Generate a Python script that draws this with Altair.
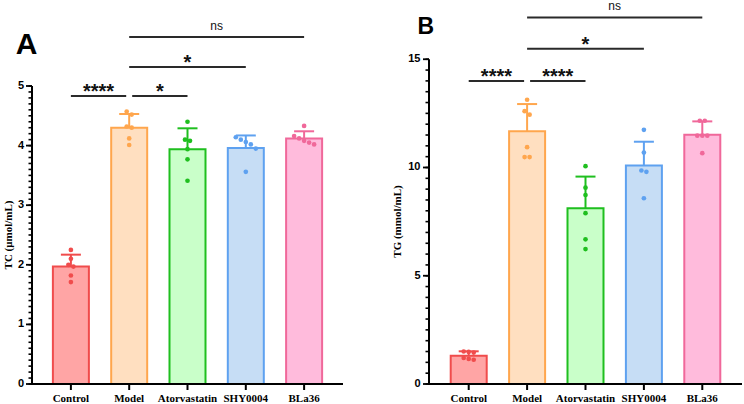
import altair as alt
import pandas as pd

# ---------------- data ----------------
groups = ["Control", "Model", "Atorvastatin", "SHY0004", "BLa36"]
stroke_colors = ["#F04C4C", "#FFA64D", "#1FBF1F", "#5EA1F0", "#F0689A"]
fill_colors = ["#FFA5A5", "#FFDFC0", "#C9FFC9", "#C6DDF5", "#FFBBDC"]

# Panel A: TC (umol/mL)
tc_mean = [1.97, 4.30, 3.94, 3.96, 4.12]
tc_err_top = [2.17, 4.53, 4.29, 4.17, 4.24]
tc_control = [2.25, 2.10, 2.00, 1.97, 1.82, 1.71]
tc_model = [4.57, 4.52, 4.32, 4.30, 4.12, 4.01]
tc_atorvastatin = [4.40, 4.10, 4.08, 3.94, 3.77, 3.41]
tc_shy0004 = [4.14, 4.10, 4.06, 4.02, 3.95, 3.56]
tc_bla36 = [4.33, 4.16, 4.12, 4.08, 4.05, 4.02]

# Panel B: TG (mmol/mL)
tg_mean = [1.30, 11.67, 8.12, 10.09, 11.51]
tg_err_top = [1.51, 12.93, 9.58, 11.19, 12.13]
tg_control = [1.50, 1.48, 1.45, 1.20, 1.16, 1.12]
tg_model = [13.13, 12.60, 12.44, 10.94, 10.48, 10.48]
tg_atorvastatin = [10.06, 9.07, 8.73, 7.89, 6.68, 6.23]
tg_shy0004 = [11.74, 10.69, 9.86, 9.80, 8.58]
tg_bla36 = [12.16, 12.16, 11.47, 11.47, 11.47, 10.66]

# significance brackets (group index from -> to, label, height in data units)
tc_br_from = [0, 1, 1, 1]
tc_br_to = [1, 2, 3, 4]
tc_br_label = ["****", "*", "*", "ns"]
tc_br_level = [4.83, 4.83, 5.32, 5.82]

tg_br_from = [0, 1, 1, 1]
tg_br_to = [1, 2, 3, 4]
tg_br_label = ["****", "****", "*", "ns"]
tg_br_level = [14.0, 14.0, 15.48, 16.93]


def panel(letter, letter_size, letter_x, letter_y, ytitle, title_x, title_y,
          means, tops, point_lists, br_from, br_to, br_label, br_level,
          major, minor, axis_max, dom_max, xpad, width, height, label_x):
    step_px = width / (4 + 2 * xpad)
    k = height / dom_max
    xs = alt.Scale(domain=[-xpad, 4 + xpad], nice=False, zero=False, padding=0)
    ys = alt.Scale(domain=[0, dom_max], nice=False, zero=True, padding=0)

    bars_df = pd.DataFrame({"idx": list(range(5)), "group": groups, "mean": means,
                            "top": tops, "zero": [0] * 5,
                            "stroke": stroke_colors, "fill": fill_colors})

    # points, spread sideways when they would overlap
    rows = []
    for gi, vals in enumerate(point_lists):
        svals = sorted(vals, reverse=True)
        clusters = [[svals[0]]]
        for v in svals[1:]:
            if (clusters[-1][-1] - v) * k < 4.5:
                clusters[-1].append(v)
            else:
                clusters.append([v])
        for cl in clusters:
            n = len(cl)
            for j, v in enumerate(cl):
                off = (j - (n - 1) / 2) * 5.0
                rows.append({"idx": gi, "value": v, "xj": gi + off / step_px,
                             "stroke": stroke_colors[gi]})
    pts_df = pd.DataFrame(rows)

    # brackets with small gaps where two meet at the same height
    brs = []
    for i in range(len(br_from)):
        a, b = br_from[i], br_to[i]
        sa, sb = 0.0, 0.0
        for j in range(len(br_from)):
            if j == i or br_level[j] != br_level[i]:
                continue
            if br_from[j] == b:
                sb = -3.0
            if br_to[j] == a:
                sa = 3.0
        x1 = a + sa / step_px
        x2 = b + sb / step_px
        brs.append({"x1": x1, "x2": x2, "xm": (x1 + x2) / 2, "level": br_level[i],
                    "label": br_label[i]})
    br_df = pd.DataFrame(brs)

    major_df = pd.DataFrame({"v": list(range(0, axis_max + 1, major))})
    major_df["t"] = major_df["v"].astype(str)
    minor_df = pd.DataFrame({"v": [round(i * minor, 6)
                                   for i in range(int(round(axis_max / minor)) + 1)]})

    X = lambda f: alt.X(f, scale=xs, axis=None)
    Y = lambda f: alt.Y(f, scale=ys, axis=None)

    bars = alt.Chart(bars_df).mark_bar(orient="vertical", width=36, strokeWidth=2).encode(
        x=X("idx:Q"), y=Y("mean:Q"), y2="zero:Q",
        fill=alt.Fill("fill:N", scale=None),
        stroke=alt.Stroke("stroke:N", scale=None))
    errs = alt.Chart(bars_df).mark_rule(strokeWidth=2).encode(
        x=X("idx:Q"), y=Y("mean:Q"), y2="top:Q",
        color=alt.Color("stroke:N", scale=None))
    caps = alt.Chart(bars_df).mark_rule(strokeWidth=2, xOffset=-10, x2Offset=10).encode(
        x=X("idx:Q"), x2="idx:Q", y=Y("top:Q"),
        color=alt.Color("stroke:N", scale=None))
    points = alt.Chart(pts_df).mark_circle(size=22, opacity=1).encode(
        x=X("xj:Q"), y=Y("value:Q"), color=alt.Color("stroke:N", scale=None))
    br_rules = alt.Chart(br_df).mark_rule(strokeWidth=2, color="#2a2a2a").encode(
        x=X("x1:Q"), x2="x2:Q", y=Y("level:Q"))
    stars = alt.Chart(br_df).transform_filter("datum.label != 'ns'").mark_text(
        font="Liberation Sans", fontSize=20, fontWeight="bold", dy=2,
        baseline="alphabetic", color="#111").encode(
        x=X("xm:Q"), y=Y("level:Q"), text="label:N")
    ns = alt.Chart(br_df).transform_filter("datum.label == 'ns'").mark_text(
        font="Liberation Sans", fontSize=12, dy=-7, baseline="alphabetic",
        color="#111").encode(
        x=X("xm:Q"), y=Y("level:Q"), text="label:N")

    # axes drawn as marks
    xline = alt.Chart(bars_df.head(1)).mark_rule(strokeWidth=2, color="black").encode(
        x=alt.value(-1), x2=alt.value(width), y=Y("zero:Q"))
    xticks = alt.Chart(bars_df).mark_rule(strokeWidth=2, color="black", y2Offset=6).encode(
        x=X("idx:Q"), y=Y("zero:Q"), y2="zero:Q")
    xlabels = alt.Chart(bars_df).mark_text(
        font="Liberation Serif", fontWeight="bold", fontSize=11, baseline="top",
        dy=9, color="black").encode(x=X("idx:Q"), y=Y("zero:Q"), text="group:N")
    yline = alt.Chart(bars_df.head(1)).mark_rule(strokeWidth=2, color="black").encode(
        x=alt.value(0), y=Y("zero:Q"), y2=alt.Y2Datum(axis_max))
    minor_ticks = alt.Chart(minor_df).mark_rule(strokeWidth=1.6, color="black").encode(
        x=alt.value(-3.5), x2=alt.value(0), y=Y("v:Q"))
    major_ticks = alt.Chart(major_df).mark_rule(strokeWidth=1.8, color="black").encode(
        x=alt.value(-6), x2=alt.value(0), y=Y("v:Q"))
    ylabels = alt.Chart(major_df).mark_text(
        font="Liberation Sans", fontWeight="bold", fontSize=11, align="right",
        baseline="middle", color="black").encode(
        x=alt.value(label_x), y=Y("v:Q"), text="t:N")
    ytitle_mark = alt.Chart(bars_df.head(1)).mark_text(
        text=ytitle, font="Liberation Serif", fontWeight="bold", fontSize=11,
        angle=270, align="center", baseline="middle", color="black").encode(
        x=alt.value(title_x), y=alt.value(title_y))
    lab = alt.Chart(bars_df.head(1)).mark_text(
        text=letter, font="Liberation Sans", fontSize=letter_size, fontWeight="bold",
        align="center", baseline="alphabetic", color="black").encode(
        x=alt.value(letter_x), y=alt.value(letter_y))

    return alt.layer(bars, errs, caps, points, br_rules, stars, ns,
                     xline, xticks, xlabels, yline, minor_ticks, major_ticks,
                     ylabels, ytitle_mark, lab).properties(width=width, height=height)


A = panel("A", 30, -5.5, 53, "TC (μmol/mL)", -23.5, 234,
          tc_mean, tc_err_top,
          [tc_control, tc_model, tc_atorvastatin, tc_shy0004, tc_bla36],
          tc_br_from, tc_br_to, tc_br_label, tc_br_level,
          1, 0.1, 5, 6.426, 0.667, 311, 383, -8)
B = panel("B", 23, -3.3, 33, "TG (mmol/mL)", -31.3, 220.5,
          tg_mean, tg_err_top,
          [tg_control, tg_model, tg_atorvastatin, tg_shy0004, tg_bla36],
          tg_br_from, tg_br_to, tg_br_label, tg_br_level,
          5, 0.5, 15, 17.69, 0.68, 313, 383, -8.5)

chart = alt.hconcat(A, B, spacing=86, bounds="flush").properties(
    padding={"left": 2, "top": 0, "right": 0, "bottom": 0},
    background="white").configure_view(stroke=None)

chart.save("out.html", embed_options={"renderer": "svg", "actions": False})
